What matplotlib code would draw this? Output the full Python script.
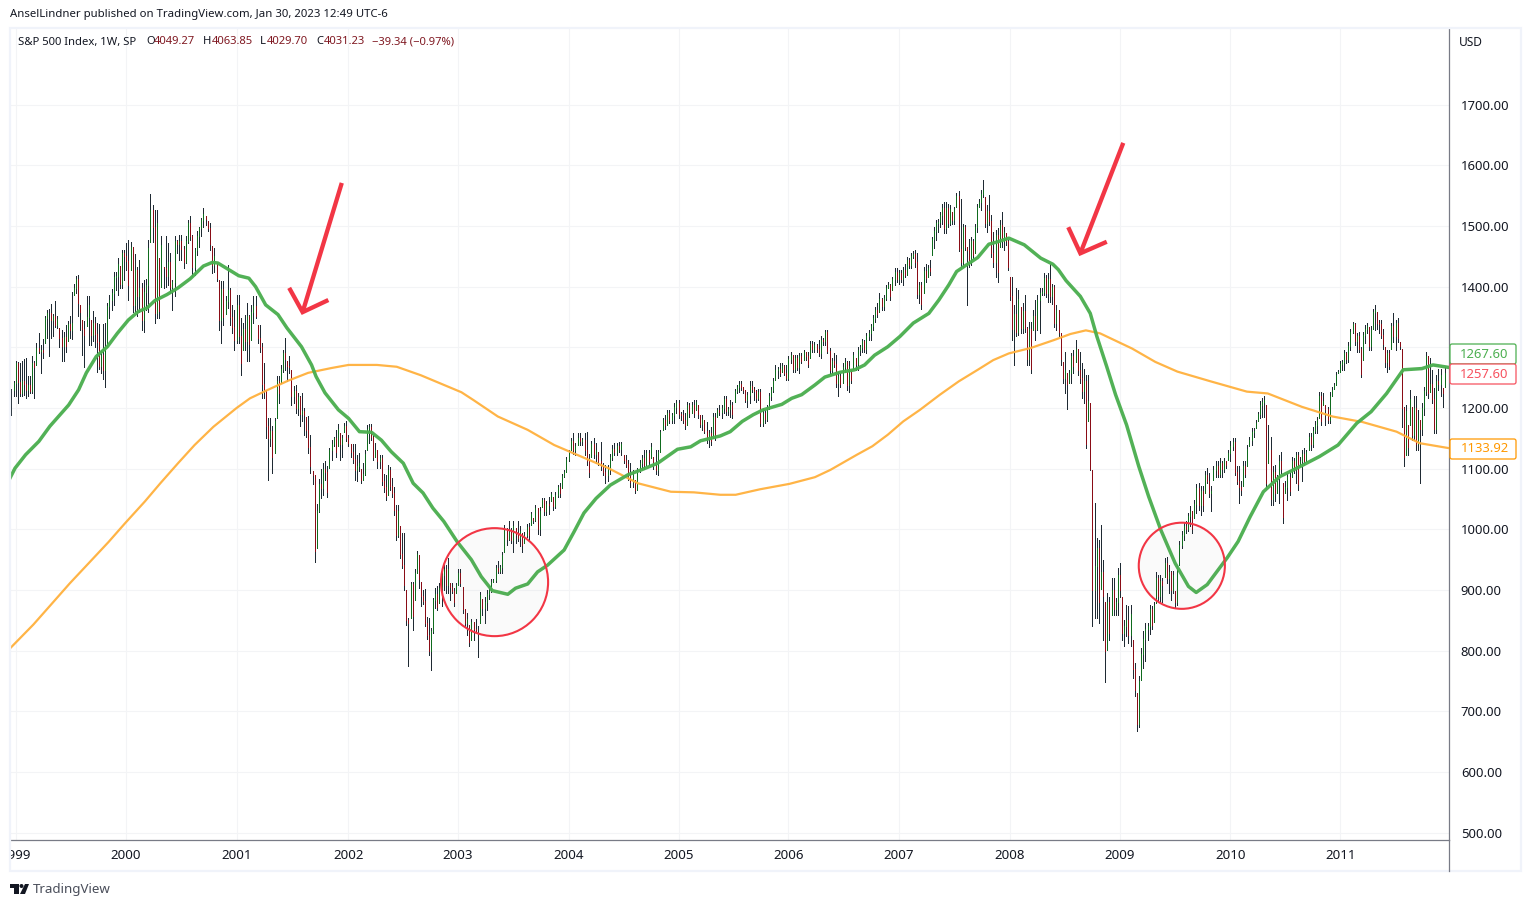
import matplotlib
matplotlib.use('Agg')
import matplotlib.pyplot as plt
from matplotlib.patches import Ellipse, Rectangle, Polygon, FancyBboxPatch, Circle
from matplotlib.transforms import IdentityTransform
import numpy as np

plt.rcParams['font.family'] = ['Noto Sans', 'DejaVu Sans']

W, H = 1531, 907

# weekly bars per year, (high, low, close)
w1998 = [(1232,1189,1229),(1245,1220,1241)]
w1999 = [(1277,1219,1275),(1276,1208,1243),(1274,1219,1225),(1277,1220,1244),(1281,1222,1239),(1282,1216,1230),(1252,1219,1238),(1252,1225,1228),(1285,1225,1275),(1277,1216,1268),
(1307,1271,1299),(1323,1290,1294),(1304,1258,1296),(1314,1282,1293),(1351,1307,1348),(1362,1315,1357),(1363,1285,1356),(1372,1315,1345),(1355,1318,1352),(1377,1334,1337),
(1351,1332,1346),(1332,1301,1315),(1329,1278,1302),(1326,1278,1317),(1337,1293,1302),(1343,1310,1338),(1351,1315,1329),(1392,1314,1340),(1404,1387,1398),(1417,1389,1412),
(1420,1351,1373),(1370,1329,1358),(1345,1288,1330),(1343,1268,1320),(1384,1336,1350),(1384,1304,1370),(1345,1304,1320),(1360,1311,1340),(1350,1300,1322),(1340,1260,1308),
(1338,1264,1270),(1295,1258,1288),(1338,1248,1262),(1340,1235,1300),(1373,1300,1368),(1387,1348,1378),(1396,1361,1390),(1424,1370,1416),(1424,1395,1417),(1447,1387,1438),
(1434,1398,1404),(1461,1398,1456),(1461,1411,1451)]
w2000 = [(1472,1428,1442),(1477,1378,1402),(1473,1428,1465),(1466,1359,1370),(1454,1359,1428),(1433,1351,1385),(1444,1358,1398),(1406,1329,1345),(1411,1326,1392),
(1413,1362,1402),(1477,1359,1464),(1553,1474,1527),(1535,1474,1498),(1527,1340,1356),(1527,1348,1505),(1447,1348,1360),(1483,1400,1469),(1433,1398,1430),
(1483,1399,1418),(1472,1403,1440),(1455,1389,1400),(1411,1362,1408),(1484,1384,1475),(1477,1455,1470),(1485,1444,1476),(1485,1444,1462),(1467,1430,1440),(1483,1439,1476),
(1510,1472,1505),(1516,1477,1483),(1485,1417,1432),(1463,1420,1460),(1491,1452,1484),(1499,1466,1496),(1513,1483,1510),(1529,1499,1519),(1516,1502,1512),(1509,1491,1496),
(1505,1461,1470),(1467,1422,1436),(1463,1425,1450),(1439,1409,1414),(1411,1329,1345),(1409,1307,1396),(1409,1337,1350),(1384,1355,1376),(1436,1365,1395),(1398,1337,1350),
(1370,1323,1334),(1362,1296,1312)]
w2001 = [(1387,1307,1370),(1387,1307,1318),(1348,1255,1275),(1340,1296,1330),(1354,1296,1310),(1373,1277,1352),(1354,1277,1305),(1370,1312,1358),(1384,1340,1368),(1384,1348,1352),
(1337,1307,1315),(1337,1293,1300),(1307,1216,1240),(1274,1216,1228),(1230,1150,1170),(1183,1082,1150),(1183,1137,1162),(1170,1093,1120),(1183,1126,1178),
(1252,1183,1245),(1252,1208,1225),(1271,1241,1265),(1296,1260,1290),(1315,1263,1280),(1277,1244,1270),(1285,1258,1268),(1263,1205,1220),
(1236,1208,1228),(1238,1192,1200),(1225,1189,1218),(1219,1170,1190),(1225,1178,1195),(1200,1156,1188),(1186,1153,1164),
(1187,1126,1135),(1156,1093,1105),(1097,1074,1090),(1090,946,965),(1041,969,1030),(1083,1028,1075),(1099,1052,1068),(1109,1057,1100),(1112,1082,1095),(1104,1054,1062),
(1134,1101,1130),(1148,1115,1140),(1153,1137,1150),(1164,1120,1128),(1174,1137,1165),(1159,1115,1140),(1156,1120,1150),(1176,1161,1170),(1178,1145,1150)]
w2002 = [(1156,1137,1142),(1140,1120,1128),(1140,1109,1116),(1140,1082,1098),(1123,1079,1105),(1126,1096,1110),(1100,1076,1082),(1109,1081,1092),(1131,1090,1125),(1172,1131,1165),
(1173,1142,1168),(1174,1147,1152),(1155,1114,1120),(1142,1120,1130),(1131,1101,1112),(1123,1101,1118),(1123,1073,1080),(1091,1062,1070),(1090,1049,1055),(1106,1057,1098),
(1103,1065,1072),(1084,1054,1060),(1070,1024,1032),(1040,983,990),(1040,988,1030),(1006,952,960),(994,936,942),(994,900,908),(900,843,850),(854,775,845),
(913,854,910),(914,834,858),(935,884,928),(965,928,960),(957,903,918),(914,873,890),(900,877,882),(902,840,846),(856,819,826),(854,793,800),
(838,768,832),(887,829,884),(903,870,894),(906,867,872),(911,878,904),(933,873,925),(941,900,935),(941,895,908),(952,895,935),(911,884,905),
(911,895,898),(903,873,880),(912,895,908)]
w2003 = [(934,908,928),(934,906,912),(905,862,868),(868,840,846),(862,826,852),(842,807,815),(852,818,848),(848,818,835),(852,829,832),(840,789,832),
(896,845,892),(885,859,870),(889,845,880),(900,867,894),(906,886,900),(919,897,914),(919,913,917),(941,914,936),(948,928,932),(941,928,938),
(963,928,958),(1007,963,1000),(1002,974,984),(1014,983,996),(1002,977,982),(1013,963,1005),(1002,977,990),(1014,980,985),(1005,972,998),(994,963,975),
(996,977,990),(1009,988,1004),(1010,983,990),(1029,1007,1025),(1018,1010,1015),(1040,1013,1035),(1035,993,1000),(1037,991,1030),(1051,1037,1048),(1051,1024,1030),
(1046,1024,1042),(1054,1026,1040),(1062,1046,1058),(1054,1032,1038),(1062,1035,1056),(1073,1054,1070),(1076,1054,1060),(1091,1068,1088),(1098,1087,1095),(1120,1095,1116)]
w2004 = [(1131,1112,1128),(1150,1131,1146),(1158,1125,1130),(1142,1122,1138),(1158,1139,1150),(1158,1139,1145),(1150,1139,1148),(1158,1123,1130),(1161,1106,1112),(1125,1087,1095),
(1145,1120,1140),(1150,1117,1125),(1142,1109,1130),(1128,1106,1112),(1144,1098,1105),(1109,1090,1095),(1106,1077,1090),(1106,1079,1100),(1125,1092,1120),(1139,1114,1132),
(1142,1122,1128),(1142,1122,1138),(1144,1128,1132),(1144,1122,1140),(1123,1109,1114),(1123,1103,1108),(1114,1081,1088),(1109,1070,1078),(1098,1070,1092),(1081,1060,1065),
(1101,1065,1098),(1114,1095,1110),(1122,1100,1118),(1131,1100,1106),(1131,1106,1126),(1131,1106,1112),(1142,1117,1136),(1120,1100,1105),(1131,1092,1098),(1131,1090,1128),
(1164,1128,1160),(1183,1164,1180),(1188,1166,1172),(1197,1172,1192),(1197,1175,1180),(1191,1175,1188),(1208,1175,1202),(1213,1191,1208)]
w2005 = [(1213,1183,1190),(1194,1180,1188),(1197,1175,1180),(1191,1166,1172),(1210,1172,1205),(1208,1186,1192),(1210,1191,1205),(1213,1186,1192),(1213,1197,1210),(1205,1183,1190),
(1188,1169,1174),(1188,1164,1182),(1180,1158,1162),(1177,1142,1150),(1164,1136,1158),(1169,1139,1145),(1191,1150,1186),(1191,1147,1155),(1200,1186,1196),(1205,1189,1194),
(1205,1183,1200),(1219,1192,1215),(1219,1189,1195),(1202,1189,1198),(1213,1186,1205),(1210,1183,1190),(1232,1210,1228),(1238,1224,1234),(1245,1227,1240),(1245,1230,1234),
(1235,1224,1230),(1230,1210,1214),(1227,1202,1222),(1244,1208,1236),(1244,1227,1232),(1235,1213,1228),(1230,1210,1216),(1232,1213,1226),(1232,1170,1176),(1200,1170,1192),
(1197,1175,1182),(1205,1178,1200),(1224,1199,1220),(1235,1213,1230),(1249,1227,1245),(1271,1246,1262),(1268,1249,1265),(1274,1252,1258),(1274,1260,1270),(1271,1254,1258),
(1271,1246,1250)]
w2006 = [(1285,1246,1280),(1293,1274,1288),(1287,1260,1265),(1287,1260,1282),(1287,1263,1268),(1290,1257,1285),(1290,1274,1278),(1296,1279,1292),(1293,1279,1286),(1293,1268,1272),
(1311,1282,1306),(1311,1293,1298),(1309,1293,1304),(1306,1293,1298),(1312,1285,1290),(1318,1282,1312),(1315,1304,1310),(1328,1304,1325),(1328,1290,1294),(1299,1256,1262),
(1282,1257,1278),(1290,1268,1272),(1287,1235,1242),(1260,1219,1252),(1257,1235,1240),(1274,1241,1268),(1282,1260,1276),(1277,1230,1238),(1277,1227,1270),(1263,1241,1246),
(1293,1265,1288),(1282,1263,1272),(1301,1263,1296),(1304,1287,1300),(1313,1293,1310),(1312,1293,1298),(1323,1290,1318),(1328,1312,1324),(1339,1312,1335),(1353,1329,1348),
(1367,1342,1362),(1373,1350,1355),(1389,1359,1380),(1381,1362,1368),(1386,1362,1382),(1403,1378,1398),(1408,1397,1402),(1405,1378,1384),(1416,1394,1412),(1430,1403,1424),
(1430,1408,1412)]
w2007 = [(1428,1405,1422),(1428,1408,1412),(1433,1403,1428),(1438,1416,1420),(1449,1419,1444),(1448,1430,1436),(1455,1430,1450),(1458,1447,1454),(1460,1433,1440),(1455,1381,1388),
(1408,1373,1402),(1408,1364,1372),(1433,1389,1426),(1438,1408,1414),(1435,1416,1430),(1444,1419,1426),(1482,1452,1478),(1499,1463,1492),(1510,1477,1505),(1512,1490,1506),
(1523,1499,1518),(1537,1504,1530),(1539,1488,1496),(1539,1488,1530),(1537,1499,1505),(1534,1502,1528),(1523,1504,1510),(1532,1504,1528),(1554,1532,1550),(1557,1458,1462),
(1545,1430,1440),(1504,1433,1498),(1501,1460,1465),(1466,1370,1460),(1479,1433,1440),(1482,1435,1476),(1479,1447,1452),(1504,1455,1498),(1537,1490,1532),(1545,1532,1540),
(1559,1526,1552),(1576,1548,1560),(1548,1499,1505),(1534,1490,1525),(1551,1501,1508),(1518,1449,1455),(1490,1433,1440),(1493,1416,1485),(1496,1408,1425),(1510,1466,1502),
(1523,1466,1475),(1499,1460,1490),(1488,1469,1476),(1477,1427,1432)]
w2008 = [(1416,1378,1385),(1416,1312,1330),(1370,1271,1355),(1397,1318,1325),(1394,1320,1380),(1367,1323,1332),(1373,1323,1360),(1386,1326,1332),(1334,1271,1280),(1342,1271,1330),
(1342,1257,1265),(1361,1328,1352),(1378,1312,1330),(1386,1328,1378),(1397,1323,1390),(1397,1386,1392),(1422,1386,1415),(1419,1383,1390),(1422,1375,1412),(1438,1375,1385),
(1405,1372,1400),(1403,1334,1340),(1370,1329,1362),(1361,1318,1325),(1323,1271,1280),(1276,1241,1250),(1293,1224,1262),(1257,1199,1240),(1263,1241,1258),(1290,1241,1285),
(1295,1257,1270),(1312,1276,1298),(1298,1254,1262),(1293,1241,1250),(1274,1216,1228),(1265,1208,1245),(1254,1134,1140),(1254,1178,1212),(1208,1098,1100),(1098,840,900),
(1043,854,940),(986,854,970),(983,845,880),(1008,901,930),(950,818,890),(881,748,800),(895,801,880),(889,818,830),(920,859,900),(920,859,868),
(887,859,880),(936,859,925)]
w2009 = [(944,889,900),(889,818,830),(851,807,840),(876,824,850),(873,813,826),(876,807,860),(818,755,770),(780,725,735),(730,667,680),(758,675,750),
(804,752,795),(832,771,820),(846,783,835),(846,818,840),(876,827,868),(873,835,842),(881,848,875),(930,878,920),(925,881,890),(925,881,915),
(920,881,908),(952,922,945),(955,912,920),(942,895,930),(931,884,900),(931,895,925),(898,871,880),(942,876,936),(980,942,975),(997,969,990),
(1010,983,1005),(1013,994,1000),(1027,997,1022),(1038,1005,1030),(1030,994,1000),(1049,1019,1042),(1075,1027,1068),(1076,1032,1040),(1071,1024,1064),(1071,1030,1040),
(1096,1060,1090),(1101,1076,1080),(1093,1054,1060),(1071,1030,1064),(1104,1082,1098),(1112,1087,1105),(1112,1087,1092),(1118,1087,1110),(1112,1087,1100),(1118,1095,1112),
(1112,1101,1106),(1131,1115,1126)]
w2010 = [(1145,1112,1138),(1150,1131,1144),(1150,1090,1095),(1104,1074,1080),(1104,1043,1070),(1079,1057,1065),(1112,1071,1105),(1112,1087,1092),(1139,1104,1132),(1153,1137,1148),
(1167,1139,1160),(1167,1153,1162),(1181,1167,1176),(1194,1178,1190),(1211,1183,1205),(1216,1186,1210),(1219,1186,1214),(1205,1068,1076),(1172,1109,1130),(1153,1040,1050),
(1104,1040,1095),(1106,1046,1060),(1090,1060,1085),(1123,1043,1112),(1128,1093,1100),(1076,1010,1020),(1079,1060,1070),(1093,1049,1086),(1093,1057,1064),(1120,1087,1112),
(1117,1093,1100),(1128,1076,1122),(1128,1065,1075),(1120,1104,1112),(1131,1079,1125),(1134,1106,1112),(1131,1112,1128),(1158,1131,1152),(1158,1131,1140),(1169,1136,1162),
(1178,1158,1172),(1186,1158,1180),(1227,1183,1220),(1227,1172,1178),(1225,1205,1212),(1205,1172,1198),(1202,1175,1180),(1227,1175,1220),(1235,1219,1230),(1241,1232,1238),
(1260,1238,1255),(1263,1257,1260)]
w2011 = [(1278,1260,1272),(1279,1263,1276),(1296,1263,1290),(1293,1274,1280),(1309,1276,1303),(1331,1296,1325),(1342,1323,1338),(1340,1304,1310),(1323,1293,1318),(1326,1293,1298),
(1301,1251,1256),(1326,1279,1320),(1337,1307,1330),(1340,1323,1335),(1334,1296,1302),(1335,1296,1328),(1364,1331,1358),(1370,1329,1362),(1359,1331,1340),(1345,1323,1338),
(1345,1315,1320),(1331,1298,1305),(1301,1268,1276),(1296,1260,1290),(1296,1265,1270),(1340,1298,1335),(1356,1309,1318),(1345,1296,1340),(1348,1309,1316),(1309,1298,1302),
(1298,1169,1200),(1202,1104,1120),(1205,1123,1195),(1172,1123,1135),(1230,1172,1215),(1202,1147,1155),(1219,1147,1200),(1219,1131,1140),(1197,1131,1180),(1180,1076,1165),
(1208,1156,1200),(1235,1189,1228),(1293,1222,1285),(1285,1216,1225),(1282,1227,1240),(1263,1208,1215),(1233,1158,1165),(1254,1158,1245),(1265,1230,1240),(1265,1219,1255),
(1233,1202,1225),(1268,1235,1258)]

years = [1999,2000,2001,2002,2003,2004,2005,2006,2007,2008,2009,2010,2011]
year_weeks = [2.2,54.4,106.6,159.5,211.3,263.5,315.5,367.4,419.6,472.1,524.1,576.3,628.2]

# moving averages read at sampled dates
green_t = [1998.95,1998.995,1999.09,1999.21,1999.31,1999.48,1999.57,1999.64,1999.73,1999.83,1999.92,2000.02,2000.11,2000.19,2000.26,2000.37,2000.47,2000.58,2000.70,2000.78,2000.83,2000.93,2001.02,2001.11,2001.17,2001.26,2001.37,2001.45,2001.58,2001.67,2001.71,2001.79,2001.91,2002.00,2002.10,2002.21,2002.30,2002.39,2002.50,2002.59,2002.68,2002.77,2002.87,2002.99,2003.12,2003.21,2003.31,2003.45,2003.52,2003.63,2003.72,2003.81,2003.96,2004.05,2004.14,2004.25,2004.38,2004.54,2004.66,2004.81,2004.99,2005.11,2005.20,2005.38,2005.47,2005.58,2005.68,2005.77,2005.94,2006.03,2006.12,2006.24,2006.33,2006.47,2006.60,2006.69,2006.78,2006.90,2007.01,2007.13,2007.27,2007.36,2007.45,2007.52,2007.61,2007.71,2007.81,2007.89,2007.99,2008.13,2008.28,2008.39,2008.44,2008.51,2008.64,2008.73,2008.79,2008.88,2008.96,2009.06,2009.17,2009.26,2009.37,2009.50,2009.62,2009.69,2009.79,2009.97,2010.07,2010.18,2010.30,2010.45,2010.65,2010.81,2010.98,2011.15,2011.28,2011.42,2011.57,2011.74,2011.84,2011.98]
green_p = [1085,1101,1123,1145,1170,1205,1230,1258,1285,1301,1323,1345,1359,1365,1377,1387,1398,1413,1434,1440,1439,1428,1418,1414,1400,1370,1354,1332,1301,1271,1252,1225,1197,1183,1161,1160,1147,1128,1109,1076,1060,1035,1013,980,950,922,899,893,903,910,930,941,966,996,1027,1051,1073,1090,1098,1109,1132,1136,1146,1154,1161,1178,1189,1197,1206,1216,1222,1238,1251,1259,1263,1271,1287,1301,1318,1340,1356,1378,1403,1425,1436,1448,1470,1474,1480,1469,1447,1437,1428,1410,1384,1356,1318,1268,1222,1172,1104,1054,999,944,906,896,909,953,980,1021,1062,1087,1105,1120,1139,1175,1194,1224,1263,1265,1271,1267]
orange_t = [1998.95,1999.16,1999.33,1999.49,1999.66,1999.84,1999.99,2000.17,2000.31,2000.47,2000.62,2000.79,2001.00,2001.12,2001.28,2001.46,2001.64,2001.85,2002.00,2002.26,2002.44,2002.66,2003.03,2003.14,2003.36,2003.63,2003.87,2004.05,2004.36,2004.63,2004.93,2005.14,2005.38,2005.52,2005.74,2006.01,2006.24,2006.38,2006.62,2006.76,2006.90,2007.04,2007.19,2007.37,2007.54,2007.71,2007.85,2007.99,2008.19,2008.40,2008.55,2008.69,2008.82,2009.11,2009.32,2009.52,2009.82,2010.15,2010.34,2010.65,2010.93,2011.20,2011.51,2011.72,2011.98]
orange_p = [804,843,878,911,944,979,1010,1046,1076,1109,1139,1169,1200,1216,1230,1245,1258,1266,1271,1271,1268,1254,1226,1213,1186,1164,1139,1125,1101,1076,1062,1061,1057,1057,1066,1075,1086,1098,1123,1137,1156,1178,1197,1222,1244,1263,1279,1290,1299,1312,1322,1328,1323,1298,1276,1260,1244,1227,1224,1202,1186,1177,1161,1142,1134]

price_ticks = [500,600,700,800,900,1000,1100,1200,1300,1400,1500,1600,1700]

# hand drawn marks on the chart, date and price
arrow1_shaft_t, arrow1_shaft_p = [2001.94,2001.59], [1571,1358]
arrow1_head_t, arrow1_head_p = [2001.47,2001.59,2001.82], [1398,1358,1378]
arrow2_shaft_t, arrow2_shaft_p = [2009.03,2008.64], [1637,1455]
arrow2_head_t, arrow2_head_p = [2008.53,2008.64,2008.88], [1498,1455,1474]
circle1 = (2003.33, 913, 0.97, 178)
circle2 = (2009.56, 940, 0.78, 142)

GREEN = '#4caf50'
ORANGE = '#ffb03c'
RED = '#f23645'
TEXT = '#131722'
GRID = '#f3f4f6'
AXIS = '#787b86'
DARKRED = '#801922'


def week_of(t):
    t = np.asarray(t, dtype=float)
    y = np.array(years, dtype=float)
    w = np.array(year_weeks)
    out = np.interp(t, y, w)
    out = np.where(t < y[0], w[0] + (t - y[0]) * 52.18, out)
    out = np.where(t > y[-1], w[-1] + (t - y[-1]) * 52.18, out)
    return out


fig = plt.figure(figsize=(W / 100, H / 100), dpi=100, facecolor='white')
ax = fig.add_axes([11 / W, 1 - 840 / H, (1449 - 11) / W, (840 - 29) / H])
ax.set_xlim(0, 679.6)
ax.set_ylim(488, 1824.7)

# bars
blocks = [w1998, w1999, w2000, w2001, w2002, w2003, w2004, w2005, w2006, w2007, w2008, w2009, w2010, w2011]
edges = [0.2] + year_weeks + [678.5]
xs, hi, lo, cl = [], [], [], []
for b, block in enumerate(blocks):
    n = len(block)
    for k, row in enumerate(block):
        xs.append(edges[b] + k * (edges[b + 1] - edges[b]) / n)
        hi.append(row[0])
        lo.append(row[1])
        cl.append(row[2])
xs, hi, lo, cl = map(np.array, (xs, hi, lo, cl))
op = np.clip(np.r_[cl[0], cl[:-1]], lo, hi)
up = cl >= op

px = 0.72
ax.vlines(xs, lo, hi, colors='#1f2a33', linewidth=px, antialiased=False, zorder=3)
ax.vlines(xs[up], op[up], cl[up], colors='#0f6b1e', linewidth=px, antialiased=False, zorder=4)
ax.vlines(xs[~up], cl[~up], op[~up], colors='#8a0c16', linewidth=px, antialiased=False, zorder=4)

# grid, the 1300.00 label sits behind the green tag so it stays empty
ax.set_xticks(year_weeks)
ax.set_yticks(price_ticks)
ax.set_yticklabels(['' if p == 1300 else '%.2f' % p for p in price_ticks])
ax.grid(True, color=GRID, linewidth=0.8, zorder=0)
ax.set_axisbelow(True)
ax.tick_params(axis='x', length=0, labelbottom=False)
ax.tick_params(axis='y', length=0, labelleft=False, labelright=True, right=False, left=False,
               labelsize=9.4, labelcolor=TEXT, pad=8.5)
for s in ['top', 'left']:
    ax.spines[s].set_visible(False)
ax.spines['right'].set_color(AXIS)
ax.spines['right'].set_linewidth(0.9)
ax.spines['bottom'].set_color(AXIS)
ax.spines['bottom'].set_linewidth(0.9)

# moving averages
ax.plot(week_of(orange_t), orange_p, color=ORANGE, lw=1.6, alpha=0.95, zorder=5, solid_joinstyle='round')
ax.plot(week_of(green_t), green_p, color=GREEN, lw=2.5, alpha=0.97, zorder=6, solid_joinstyle='round')

# circles
for t, p, w_y, h_p in [circle1, circle2]:
    ax.add_patch(Ellipse((week_of(t), p), w_y * 52.18, h_p, facecolor=(0.47, 0.47, 0.47, 0.03),
                         edgecolor=RED, linewidth=1.5, zorder=7))

# arrows
for st, sp, ht, hp in [(arrow1_shaft_t, arrow1_shaft_p, arrow1_head_t, arrow1_head_p),
                       (arrow2_shaft_t, arrow2_shaft_p, arrow2_head_t, arrow2_head_p)]:
    ax.plot(week_of(st), sp, color=RED, lw=3.1, solid_capstyle='butt', zorder=8)
    ax.plot(week_of(ht), hp, color=RED, lw=3.1, solid_capstyle='butt', solid_joinstyle='miter', zorder=8)

# time axis pane, year labels clip at its left edge
ax_t = fig.add_axes([11 / W, 1 - 871 / H, (1449 - 11) / W, 31 / H])
ax_t.set_xlim(ax.get_xlim())
ax_t.set_ylim(0, 1)
ax_t.axis('off')
for y, wk in zip(years, year_weeks):
    ax_t.text(wk, 0.49, str(y), ha='center', va='center', fontsize=9.6, fontweight='bold',
              color=TEXT, clip_on=True)

# everything outside the axes is placed in figure pixels


def fx(x):
    return x / W


def fy(y):
    return 1 - y / H


fig.add_artist(Rectangle((fx(10), fy(871)), fx(1521) - fx(10), (871 - 28) / H, fill=False,
                         edgecolor='#f0f3fa', linewidth=1.6, transform=fig.transFigure))
fig.add_artist(plt.Line2D([fx(1449), fx(1449)], [fy(840), fy(871)], color=AXIS, lw=0.9))

fig.text(fx(10), fy(15), 'AnselLindner published on TradingView.com, Jan 30, 2023 12:49 UTC-6',
         fontsize=8.2, color=TEXT, va='center', ha='left')
head = [(18, 'S&P 500 Index, 1W, SP', TEXT), (146, 'O', TEXT), (154, '4049.27', DARKRED), (203, 'H', TEXT),
        (212, '4063.85', DARKRED), (260, 'L', TEXT), (267, '4029.70', DARKRED), (316, 'C', TEXT),
        (324, '4031.23', DARKRED), (372, '−39.34 (−0.97%)', DARKRED)]
for x, s, c in head:
    fig.text(fx(x), fy(42), s, fontsize=8.1, color=c, va='center', ha='left')
fig.text(fx(1459), fy(42), 'USD', fontsize=8.6, color=TEXT, va='center', ha='left')

# last value tags
tags = [(344, '1267.60', '#4caf50'), (364, '1257.60', '#f7525f'), (439, '1133.92', '#ff9800')]
for y, s, c in tags:
    box = FancyBboxPatch((1450, H - y - 20), 66, 20, boxstyle='round,pad=0,rounding_size=2',
                         facecolor='white', edgecolor=c, linewidth=0.9, transform=IdentityTransform())
    fig.add_artist(box)
    fig.text(fx(1484.5), fy(y + 10), s, fontsize=9.4, color=c, va='center', ha='center')

# logo
logo = '#131722'
fig.add_artist(Polygon([(10, H - 884), (19, H - 884), (19, H - 894), (14, H - 894), (14, H - 888), (10, H - 888)],
                       closed=True, facecolor=logo, edgecolor='none', transform=IdentityTransform()))
fig.add_artist(Circle((21.5, H - 886), 2, facecolor=logo, edgecolor='none', transform=IdentityTransform()))
fig.add_artist(Polygon([(25, H - 884), (29, H - 884), (25, H - 894), (20, H - 894)],
                       closed=True, facecolor=logo, edgecolor='none', transform=IdentityTransform()))
fig.text(fx(33), fy(889), 'TradingView', fontsize=9.6, color='#4a4e5a', va='center', ha='left')

fig.savefig('out.png', dpi=100, facecolor='white')
